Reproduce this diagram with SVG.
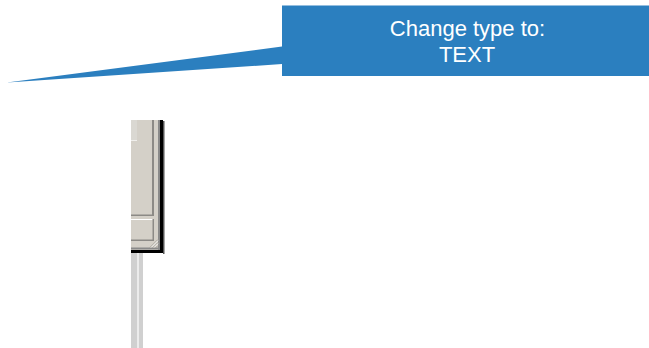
<svg xmlns="http://www.w3.org/2000/svg" width="649" height="348" viewBox="0 0 649 348">
<style>
.callout{fill:#2b7fbf}
.lbl{font-family:"Liberation Sans",Arial,sans-serif;font-size:22px;fill:#ffffff;text-anchor:middle}
.face{fill:#d4d0c8}
.shade{fill:#8c8a86}
.hi{fill:#ffffff}
</style>
<rect width="649" height="348" fill="#ffffff"/>
<g id="window-fragment">
  <rect x="131" y="252" width="12" height="96" fill="#d0d0d0"/>
  <rect x="137" y="252" width="2" height="96" fill="#ececec"/>
  <rect class="face" x="131" y="120" width="32" height="133"/>
  <rect x="131" y="120" width="6" height="20" fill="#dad8d2"/>
  <rect x="131" y="140" width="6" height="1" fill="#f0efec"/>
  <rect class="shade" x="152" y="120" width="2" height="96"/>
  <rect class="shade" x="131" y="214.5" width="23" height="1.5"/>
  <rect class="hi" x="131" y="219" width="22" height="1"/>
  <rect class="shade" x="152.5" y="219" width="1.5" height="22"/>
  <rect class="shade" x="131" y="239.5" width="23" height="1.5"/>
  <rect x="158" y="120" width="2" height="130" fill="#8a8a8a"/>
  <rect x="131" y="247.5" width="29" height="2" fill="#8a8a8a"/>
  <path d="M150 247.5 L158 239.5 M153 247.5 L158 242.5 M156 247.5 L158 245.5" stroke="#a09c94" stroke-width="1" fill="none"/>
  <path d="M151 247.5 L158 240.5 M154 247.5 L158 243.5" stroke="#ffffff" stroke-width="0.8" fill="none"/>
  <rect x="160" y="120" width="3" height="133" fill="#000000"/>
  <rect x="131" y="250" width="32" height="3" fill="#000000"/>
  <rect x="163" y="121" width="1.5" height="133" fill="#555555"/>
</g>
<g id="callout">
  <path class="callout" d="M282 5.5 H649 V76 H282 V64 L7 82.5 L282 46.5 Z"/>
  <text class="lbl" x="467.5" y="36">Change type to:</text>
  <text class="lbl" x="467" y="61.5">TEXT</text>
</g>
</svg>
